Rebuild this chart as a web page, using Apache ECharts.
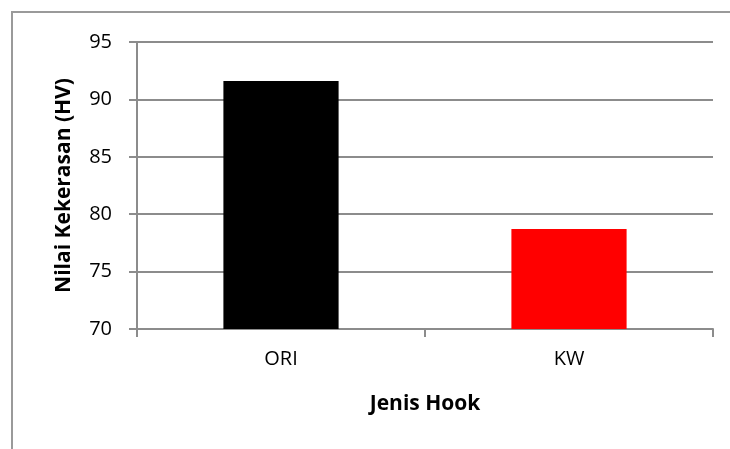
<!DOCTYPE html>
<html>
<head>
<meta charset="utf-8">
<script src="https://cdn.jsdelivr.net/npm/echarts@6/dist/echarts.min.js"></script>
<style>
  html, body { margin: 0; padding: 0; background: #fff; }
  #chart { width: 730px; height: 449px; }
</style>
</head>
<body>
<div id="chart"></div>
<script>
// Hardness values per hook type
const categories = ['ORI', 'KW'];
const hardness = [91.6, 78.7];
const barColors = ['#000000', '#ff0000'];

const yMin = 70;
const yMax = 95;
const yStep = 5;

const chart = echarts.init(document.getElementById('chart'));
const axisGray = '#8c8c8c';
const font = 'Open Sans';

chart.setOption({
  animation: false,
  backgroundColor: '#ffffff',
  graphic: [{
    type: 'rect',
    shape: { x: 12, y: 12, width: 760, height: 480 },
    style: { fill: 'none', stroke: '#9a9a9a', lineWidth: 2 },
    silent: true
  }],
  grid: { left: 137, right: 17, top: 42, bottom: 120 },
  xAxis: {
    type: 'category',
    data: categories,
    name: 'Jenis Hook',
    nameLocation: 'middle',
    nameGap: 65,
    nameTextStyle: { fontFamily: font, fontWeight: 'bold', fontSize: 21, color: '#000' },
    axisLine: { lineStyle: { color: axisGray, width: 2 } },
    axisTick: { show: true, length: 8, lineStyle: { color: axisGray, width: 2 } },
    axisLabel: { fontFamily: font, fontSize: 20, color: '#000', margin: 20 }
  },
  yAxis: {
    type: 'value',
    min: yMin,
    max: yMax,
    interval: yStep,
    name: 'Nilai Kekerasan (HV)',
    nameLocation: 'middle',
    nameGap: 62,
    nameRotate: 90,
    nameTextStyle: { fontFamily: font, fontWeight: 'bold', fontSize: 21, color: '#000' },
    axisLine: { show: true, lineStyle: { color: axisGray, width: 2 } },
    axisTick: { show: true, length: 8, lineStyle: { color: axisGray, width: 2 } },
    axisLabel: { fontFamily: font, fontSize: 20, color: '#000', margin: 25 },
    splitLine: { show: true, lineStyle: { color: axisGray, width: 2 } }
  },
  series: [{
    type: 'bar',
    barWidth: '40%',
    data: hardness.map((v, i) => ({ value: v, itemStyle: { color: barColors[i] } }))
  }]
});
</script>
</body>
</html>
